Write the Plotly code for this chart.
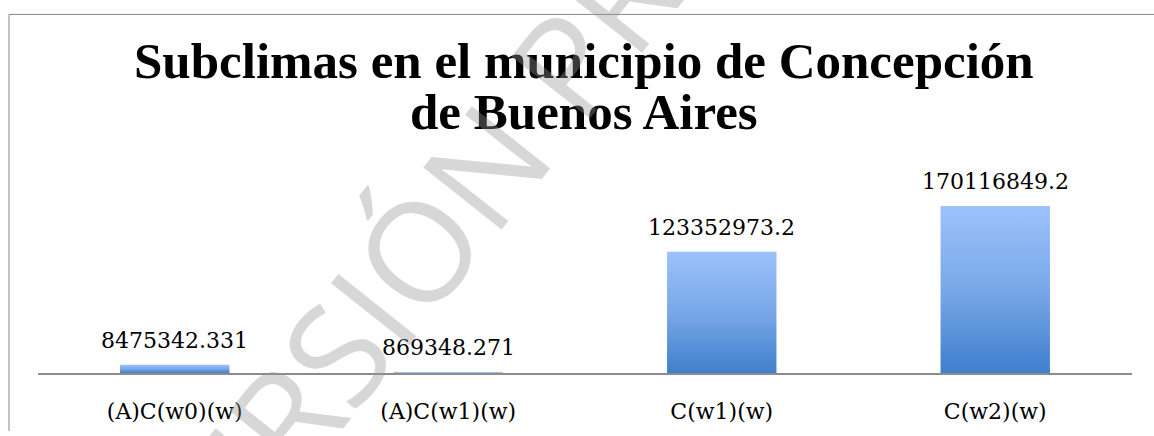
import plotly.graph_objects as go

# Subclimate areas in the municipality
categories = ["(A)C(w0)(w)", "(A)C(w1)(w)", "C(w1)(w)", "C(w2)(w)"]
values = [8475342.331, 869348.271, 123352973.2, 170116849.2]
value_labels = ["8475342.331", "869348.271", "123352973.2", "170116849.2"]

title_lines = ["Subclimas en el municipio de Concepción", "de Buenos Aires"]
watermark = "VERSIÓN PRELIMINAR"

# Canvas and plot-area geometry (pixels)
W, H = 1154, 436
M_L, M_R, M_T, M_B = 38, 22, 150, 59
PW, PH = W - M_L - M_R, H - M_T - M_B
Y_MAX = 227e6
BAR_HALF = 0.2


def px_x(px):
    return (px - M_L) / PW


def px_y(py):
    return (H - M_B - py) / PH


GRADIENT = [[0.0, "#3f7fcd"], [0.5, "#79a8e8"], [1.0, "#9cc2fb"]]
SERIF = "DejaVu Serif"

fig = go.Figure()

# Each bar is a filled rectangle with its own vertical gradient
for i, v in enumerate(values):
    fig.add_trace(go.Scatter(
        x=[i - BAR_HALF, i + BAR_HALF, i + BAR_HALF, i - BAR_HALF, i - BAR_HALF],
        y=[0, 0, v, v, 0],
        mode="lines",
        line=dict(width=0, color="rgba(0,0,0,0)"),
        fill="toself",
        fillgradient=dict(type="vertical", colorscale=GRADIENT),
        hoverinfo="text",
        text=f"{categories[i]}: {value_labels[i]}",
        showlegend=False,
    ))

annotations = []
# Value labels above each bar
for i, (v, lab) in enumerate(zip(values, value_labels)):
    annotations.append(dict(
        x=i, y=v, xref="x", yref="y", text=lab, showarrow=False,
        xanchor="center", yanchor="bottom", yshift=10,
        font=dict(family=SERIF, size=22, color="#000000"),
    ))

# Two-line bold title
for line, cy in zip(title_lines, [59, 111]):
    annotations.append(dict(
        x=px_x(584), y=px_y(cy), xref="paper", yref="paper", text=f"<b>{line}</b>",
        showarrow=False, xanchor="center", yanchor="middle",
        font=dict(family="Liberation Serif", size=51, color="#000000"),
    ))

# Diagonal watermark
annotations.append(dict(
    x=px_x(598), y=px_y(18), xref="paper", yref="paper", text=watermark,
    showarrow=False, xanchor="center", yanchor="middle", textangle=-51.5,
    font=dict(family="Open Sans", size=140, color="rgba(150,150,150,0.38)"),
))

frame = dict(color="#888888", width=1)
fig.update_layout(
    width=W, height=H,
    margin=dict(l=M_L, r=M_R, t=M_T, b=M_B, pad=0),
    paper_bgcolor="#ffffff", plot_bgcolor="#ffffff",
    showlegend=False,
    annotations=annotations,
    shapes=[
        # chart frame: left and top edges
        dict(type="line", xref="paper", yref="paper",
             x0=px_x(9), x1=px_x(9), y0=px_y(H), y1=px_y(12), line=frame, layer="below"),
        dict(type="line", xref="paper", yref="paper",
             x0=px_x(9), x1=px_x(W), y0=px_y(12), y1=px_y(12), line=frame, layer="below"),
    ],
    xaxis=dict(
        range=[-0.5, len(categories) - 0.5],
        tickvals=list(range(len(categories))), ticktext=categories,
        showgrid=False, zeroline=False,
        showline=True, linecolor="#8c8c8c", linewidth=1.5,
        ticks="outside", ticklen=18, tickcolor="rgba(0,0,0,0)",
        tickfont=dict(family=SERIF, size=22, color="#000000"),
        fixedrange=True,
    ),
    yaxis=dict(
        range=[0, Y_MAX], visible=False, showgrid=False, zeroline=False,
        fixedrange=True,
    ),
)

fig.write_html("out.html")
